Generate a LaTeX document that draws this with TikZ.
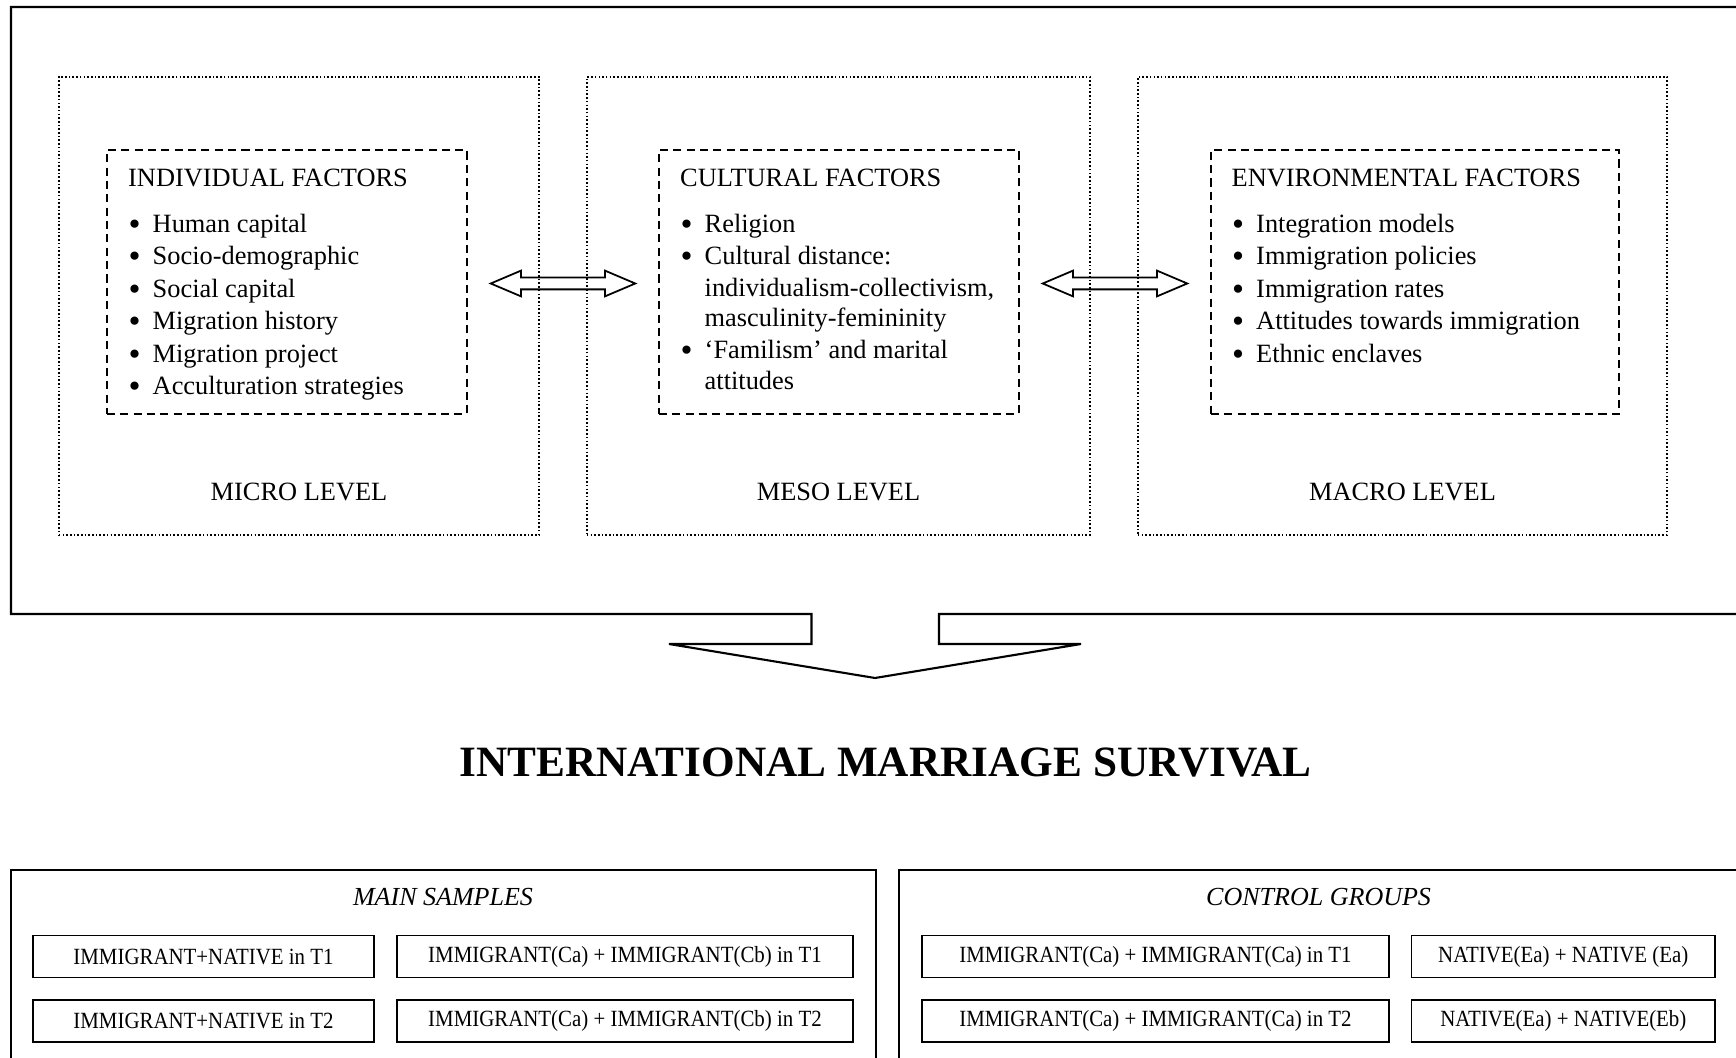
\documentclass[tikz,border=0pt]{standalone}
\usepackage{fontspec}
\usepackage{graphicx}
\setmainfont{Liberation Serif}
\newfontfamily\narrowserif[FakeStretch=0.9]{Liberation Serif}
\usetikzlibrary{shapes.arrows,positioning}
\tikzset{
  lvlbox/.style={draw,line width=0.4pt,dash pattern=on 0.45pt off 0.6pt,minimum height=4.575cm,inner sep=0pt},
  facbox/.style={draw,line width=0.5pt,dash pattern=on 2.3pt off 1.5pt,minimum height=2.64cm,inner sep=0pt},
  txt/.style={inner sep=0pt,font=\fontsize{7.5}{9}\selectfont},
  hd/.style={txt,anchor=base west},
  lvl/.style={txt,anchor=base},
  grp/.style={inner sep=0pt,anchor=base,font=\fontsize{7.4}{9}\selectfont\itshape},
  link/.style={double arrow,draw,line width=0.5pt,minimum height=1.445cm,double arrow head extend=0.07cm,
               double arrow tip angle=46,inner xsep=0pt,inner ysep=0.05cm},
  cell/.style={draw,line width=0.55pt,minimum height=0.42cm,inner sep=0pt,font=\narrowserif\fontsize{6.6}{8}\selectfont},
  frame/.style={line width=0.6pt},
}
\newcommand{\bul}{\makebox[0.24cm][l]{\raisebox{-0.6pt}{\scalebox{1.3}{\textbullet}}}}
\newcommand{\nobul}{\hspace*{0.24cm}}

\begin{document}
\begin{tikzpicture}[x=0.01cm,y=-0.01cm]
\useasboundingbox (0,0) rectangle (1736,1058);
\clip (0,0) rectangle (1736,1058);
% outer frame with the block arrow
\draw[frame] (939,614) -- (1750,614) -- (1750,7) -- (11,7) -- (11,614) -- (811.5,614) -- (811.5,644)
  -- (669,644) -- (875,678) -- (1081,644) -- (939,644) -- cycle;
% levels
\node[lvlbox,minimum width=4.8cm] (micro) at (299,306) {};
\node[lvlbox,minimum width=5.03cm] (meso) at (838.5,306) {};
\node[lvlbox,minimum width=5.29cm] (macro) at (1402.5,306) {};
\node[lvl] (microlbl) at (299,501) {MICRO LEVEL};
\node[lvl] (mesolbl) at (838.5,501) {MESO LEVEL};
\node[lvl] (macrolbl) at (1402.5,501) {MACRO LEVEL};
% factor boxes
\node[facbox,minimum width=3.6cm] (indiv) at (287,282) {};
\node[facbox,minimum width=3.6cm] (cult) at (839,282) {};
\node[facbox,minimum width=4.08cm] (env) at (1415,282) {};
\node[hd] (indivhd) at (127.5,187) {INDIVIDUAL FACTORS};
\node[hd] (culthd) at (679.5,187) {CULTURAL FACTORS};
\node[hd] (envhd) at (1231,187) {ENVIRONMENTAL FACTORS};
\foreach \y/\t [count=\k] in {233/Human capital,265/Socio-demographic,298/Social capital,
  330/Migration history,363/Migration project,395/Acculturation strategies}
  \node[hd] (indiv\k) at (128,\y) {\bul\t};
\foreach \y/\m/\t [count=\k] in {233/1/Religion,265/1/{Cultural distance:},297/0/{individualism-collectivism,},
  327/0/masculinity-femininity,359/1/{‘Familism’ and marital},390/0/attitudes}
  \node[hd] (cult\k) at (680,\y) {\ifnum\m=1 \bul\else\nobul\fi\t};
\foreach \y/\t [count=\k] in {233/Integration models,265/Immigration policies,298/Immigration rates,
  330/Attitudes towards immigration,363/Ethnic enclaves}
  \node[hd] (env\k) at (1231.5,\y) {\bul\t};
% links between levels
\node[link] (microlink) at (563,283.5) {};
\node[link] (macrolink) at (1115,283.5) {};
% outcome
\node[inner sep=0pt,anchor=base,font=\fontsize{12.3}{14}\selectfont\bfseries] (survival) at (885.7,776) {INTERNATIONAL MARRIAGE SURVIVAL};
% samples
\draw[frame] (11,870) rectangle (875.7,1080);
\draw[frame] (899,870) rectangle (1738,1080);
\node[grp] (mainhd) at (443,905) {MAIN SAMPLES};
\node[grp] (ctrlhd) at (1318.6,905) {CONTROL GROUPS};
\node[cell,minimum width=3.41cm] (mixa) at (203.5,956.5) {IMMIGRANT+NATIVE in T1};
\node[cell,minimum width=3.41cm] (mixb) at (203.5,1020.7) {IMMIGRANT+NATIVE in T2};
\node[cell,minimum width=4.55cm] (immxa) at (625,956.5) {IMMIGRANT(Ca) + IMMIGRANT(Cb) in T1};
\node[cell,minimum width=4.55cm] (immxb) at (625,1020.7) {IMMIGRANT(Ca) + IMMIGRANT(Cb) in T2};
\node[cell,minimum width=4.67cm] (immsa) at (1155.5,956.5) {IMMIGRANT(Ca) + IMMIGRANT(Ca) in T1};
\node[cell,minimum width=4.67cm] (immsb) at (1155.5,1020.7) {IMMIGRANT(Ca) + IMMIGRANT(Ca) in T2};
\node[cell,minimum width=3.034cm] (nata) at (1563.3,956.5) {NATIVE(Ea) + NATIVE (Ea)};
\node[cell,minimum width=3.034cm] (natb) at (1563.3,1020.7) {NATIVE(Ea) + NATIVE(Eb)};
\end{tikzpicture}
\end{document}
